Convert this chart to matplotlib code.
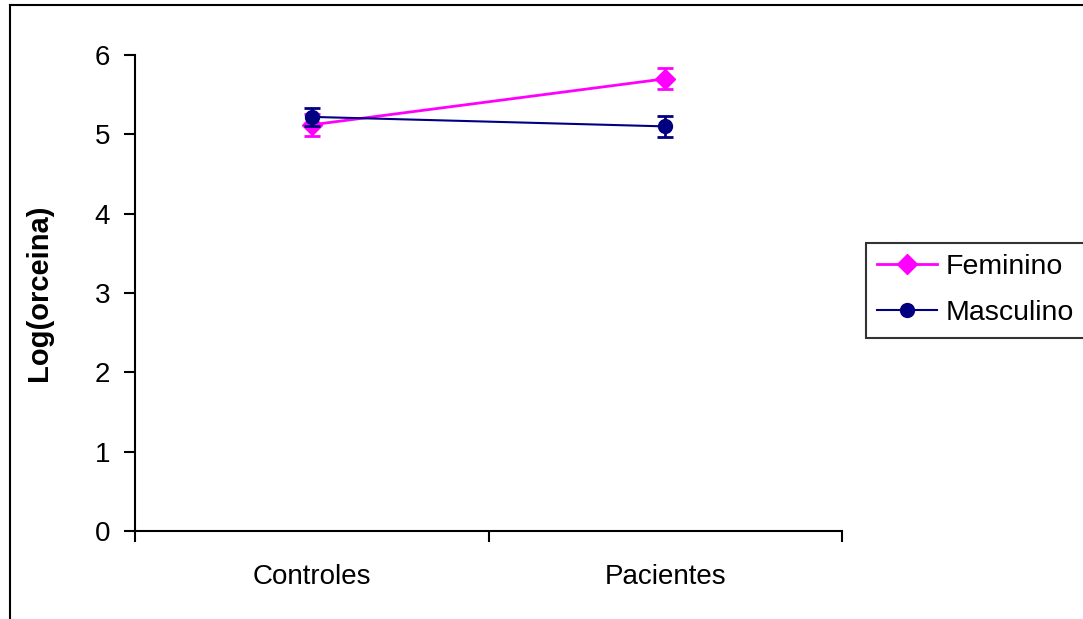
import matplotlib
matplotlib.use("Agg")
import matplotlib.pyplot as plt
from matplotlib.lines import Line2D

plt.rcParams['font.family'] = ['Liberation Sans', 'DejaVu Sans']

categories = ["Controles", "Pacientes"]
feminino = [5.12, 5.70]
feminino_err = [0.14, 0.13]
masculino = [5.22, 5.10]
masculino_err = [0.11, 0.13]
yticks = [0, 1, 2, 3, 4, 5, 6]

fig = plt.figure(figsize=(10.83, 6.19), dpi=100)
ax = fig.add_axes([135/1083, 1-531/619, (842-135)/1083, (531-55)/619])

xpos = [i + 0.5 for i in range(len(categories))]
pink = "#FF00FF"
navy = "#000080"

ax.errorbar(xpos, feminino, yerr=feminino_err, color=pink, lw=2, marker='D',
            markersize=10, capsize=6, capthick=2, elinewidth=2, label="Feminino", zorder=3)
ax.errorbar(xpos, masculino, yerr=masculino_err, color=navy, lw=1.5, marker='o',
            markersize=10, capsize=6, capthick=2, elinewidth=2, label="Masculino", zorder=4)

ax.set_xlim(0, len(categories))
ax.set_ylim(0, 6)
ax.set_yticks(yticks)
ax.set_xticks(range(len(categories) + 1))
ax.set_xticklabels([])
ax.set_xticks(xpos, minor=True)
ax.set_xticklabels(categories, minor=True)
ax.tick_params(axis='x', which='minor', length=0, pad=24, labelsize=20)
ax.tick_params(axis='x', which='major', length=8, width=1.5, direction='out')
ax.tick_params(axis='y', length=8, width=1.5, direction='out', labelsize=20, pad=10)
for s in ['top', 'right']:
    ax.spines[s].set_visible(False)
for s in ['left', 'bottom']:
    ax.spines[s].set_linewidth(1.5)
ax.set_ylabel("Log(orceina)", fontsize=21, fontweight='bold', labelpad=30)

handles = [
    Line2D([], [], color=pink, lw=2, marker='D', markersize=10),
    Line2D([], [], color=navy, lw=1.5, marker='o', markersize=10),
]
leg = fig.legend(handles, ["Feminino", "Masculino"], loc='upper left',
                 bbox_to_anchor=(866/1083, 1-243/619), fontsize=20.5, frameon=True,
                 fancybox=False, edgecolor='black', handlelength=2.1,
                 handletextpad=0.3, borderpad=0.4, labelspacing=0.7, borderaxespad=0)
leg.get_frame().set_linewidth(1.5)

fig.add_artist(Line2D([10/1083, 10/1083], [0, 1-5/619], transform=fig.transFigure,
                      color='black', lw=1.5))
fig.add_artist(Line2D([10/1083, 1], [1-5/619, 1-5/619], transform=fig.transFigure,
                      color='black', lw=1.5))

fig.savefig("out.png", dpi=100)
